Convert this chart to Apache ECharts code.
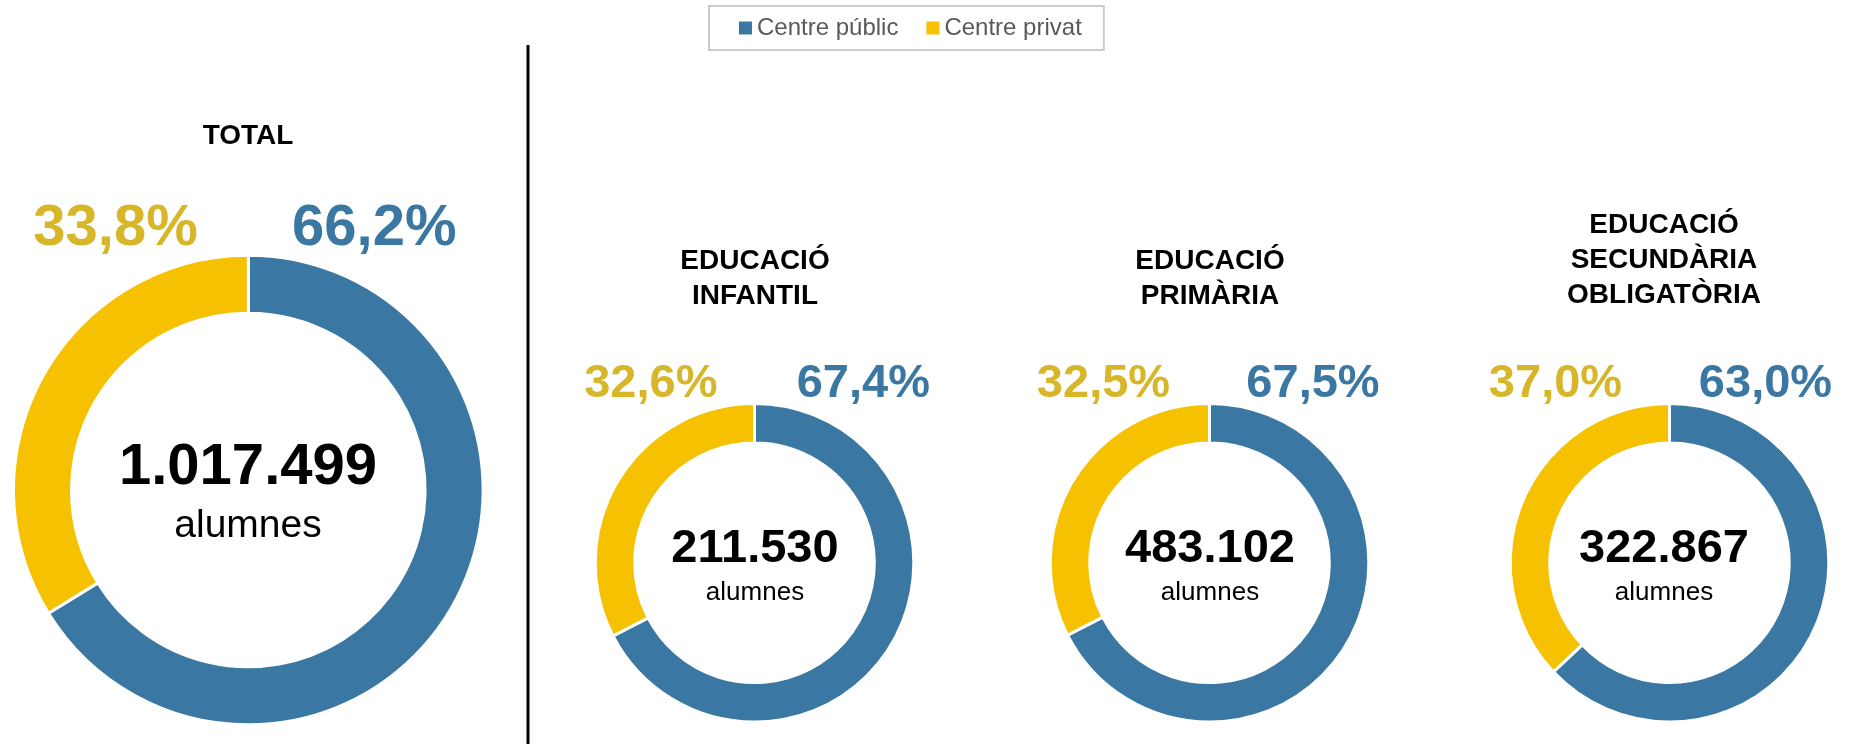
<!DOCTYPE html>
<html>
<head>
<meta charset="utf-8">
<script src="https://cdn.jsdelivr.net/npm/echarts@6/dist/echarts.min.js"></script>
<style>
  html, body { margin: 0; padding: 0; background: #ffffff; }
  #chart { width: 1856px; height: 744px; }
</style>
</head>
<body>
<div id="chart"></div>
<script>
// ---- Data ----
const categories = ['TOTAL', 'EDUCACIÓ\nINFANTIL', 'EDUCACIÓ\nPRIMÀRIA', 'EDUCACIÓ\nSECUNDÀRIA\nOBLIGATÒRIA'];
const seriesNames = ['Centre públic', 'Centre privat'];
const publicPct = [66.2, 67.4, 67.5, 63.0];
const privatePct = [33.8, 32.6, 32.5, 37.0];
const totalStudents = [1017499, 211530, 483102, 322867];
const unitLabel = 'alumnes';

// ---- Layout / style (not data) ----
const FONT = "'Liberation Sans', Arial, Helvetica, sans-serif";
const BLUE = '#3A77A2';
const YELLOW = '#F6C100';
const BLUE_TXT = '#3A77A2';
const YELLOW_TXT = '#D8B629';

const layout = [
  { cx: 248.3, cy: 490, r: [176.8, 234.8], textX: 248, titleY: 136.2,
    pubX: 374.3, privX: 115.5, labY: 228.7, pctFs: 58,
    numFs: 58, numY: 467.7, subFs: 39, subY: 526.4 },
  { cx: 754.5, cy: 562.8, r: [119.8, 159.3], textX: 755, titleY: 278.6,
    pubX: 863.3, privX: 650.8, labY: 384.5, pctFs: 47,
    numFs: 47, numY: 549.5, subFs: 26, subY: 592.6 },
  { cx: 1209.5, cy: 562.8, r: [119.8, 159.3], textX: 1210, titleY: 278.6,
    pubX: 1313, privX: 1103.5, labY: 384.5, pctFs: 47,
    numFs: 47, numY: 549.5, subFs: 26, subY: 592.6 },
  { cx: 1669.5, cy: 562.8, r: [119.8, 159.3], textX: 1664, titleY: 260.3,
    pubX: 1765.5, privX: 1555.5, labY: 384.5, pctFs: 47,
    numFs: 47, numY: 549.5, subFs: 26, subY: 592.6 }
];
const TITLE_FS = 28;
const TITLE_LH = 35.3;

function fmtThousands(n) {
  return String(n).replace(/\B(?=(\d{3})+(?!\d))/g, '.');
}
function fmtPct(v) {
  return v.toFixed(1).replace('.', ',') + '%';
}

const series = categories.map(function (cat, i) {
  const L = layout[i];
  return {
    type: 'pie',
    name: cat,
    center: [L.cx, L.cy],
    radius: L.r,
    startAngle: 90,
    clockwise: true,
    avoidLabelOverlap: false,
    silent: true,
    animation: false,
    itemStyle: { borderColor: '#ffffff', borderWidth: 3 },
    emphasis: { disabled: true },
    labelLine: { show: false },
    label: {
      show: true,
      position: 'outside',
      fontFamily: FONT,
      fontWeight: 'bold',
      fontSize: L.pctFs,
      formatter: function (p) { return fmtPct(p.value); }
    },
    labelLayout: function (p) {
      return {
        x: p.dataIndex === 0 ? L.pubX : L.privX,
        y: L.labY,
        align: 'center',
        verticalAlign: 'middle'
      };
    },
    data: [
      { name: seriesNames[0], value: publicPct[i],
        itemStyle: { color: BLUE }, label: { color: BLUE_TXT } },
      { name: seriesNames[1], value: privatePct[i],
        itemStyle: { color: YELLOW }, label: { color: YELLOW_TXT } }
    ]
  };
});

const graphics = [];
// Divider line
graphics.push({
  type: 'line', silent: true,
  shape: { x1: 528, y1: 45, x2: 528, y2: 744 },
  style: { stroke: '#000000', lineWidth: 3 }
});
categories.forEach(function (cat, i) {
  const L = layout[i];
  graphics.push({
    type: 'text', silent: true, x: L.textX, y: L.titleY,
    style: {
      text: cat, fill: '#000000',
      font: 'bold ' + TITLE_FS + 'px ' + FONT,
      lineHeight: TITLE_LH, align: 'center', verticalAlign: 'middle'
    }
  });
  graphics.push({
    type: 'text', silent: true, x: L.textX, y: L.numY,
    style: {
      text: fmtThousands(totalStudents[i]), fill: '#000000',
      font: 'bold ' + L.numFs + 'px ' + FONT,
      align: 'center', verticalAlign: 'middle'
    }
  });
  graphics.push({
    type: 'text', silent: true, x: L.textX, y: L.subY,
    style: {
      text: unitLabel, fill: '#000000',
      font: L.subFs + 'px ' + FONT,
      align: 'center', verticalAlign: 'middle'
    }
  });
});

const chart = echarts.init(document.getElementById('chart'), null, { renderer: 'canvas' });
chart.setOption({
  animation: false,
  backgroundColor: '#ffffff',
  color: [BLUE, YELLOW],
  legend: {
    data: seriesNames,
    left: 709,
    top: 6,
    orient: 'horizontal',
    padding: [10, 22, 10, 30],
    borderColor: '#cccccc',
    borderWidth: 2,
    itemWidth: 13,
    itemHeight: 13,
    itemGap: 28,
    icon: 'rect',
    selectedMode: false,
    itemStyle: { borderWidth: 0 },
    textStyle: { fontFamily: FONT, fontSize: 24, color: '#595959' }
  },
  series: series,
  graphic: graphics
});
</script>
</body>
</html>
